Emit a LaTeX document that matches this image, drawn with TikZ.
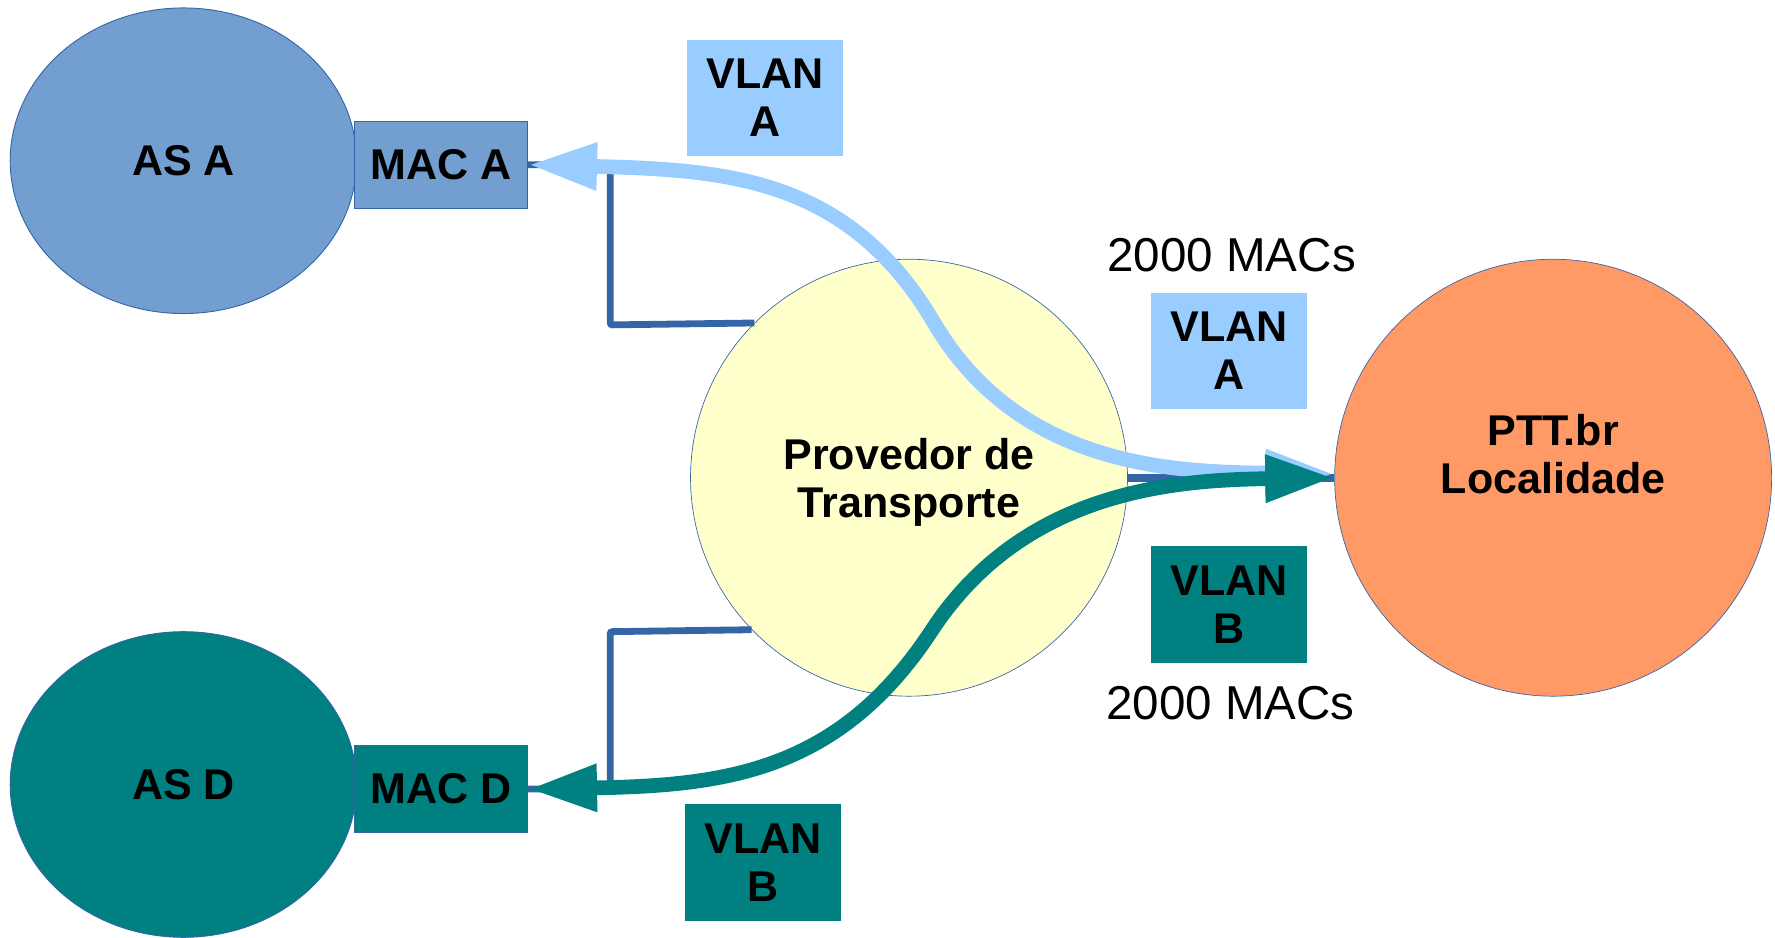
\documentclass[tikz,border=0pt]{standalone}
\usepackage{fontspec}
\setmainfont{Liberation Sans}
\usetikzlibrary{arrows.meta,shapes.geometric}
\definecolor{asblue}{HTML}{729FCF}
\definecolor{edgeblue}{HTML}{3465A4}
\definecolor{lightblue}{HTML}{99CCFF}
\definecolor{tealc}{HTML}{008080}
\definecolor{provy}{HTML}{FFFFCC}
\definecolor{pttor}{HTML}{FF9966}
\begin{document}
\begin{tikzpicture}[x=1pt,y=-1pt,
  bold/.style={font=\fontsize{38}{42.5}\selectfont\bfseries, align=center},
  asnode/.style={ellipse, draw=edgeblue, line width=0.8pt, minimum width=306pt, minimum height=270pt, inner sep=0pt, bold},
  macbox/.style={rectangle, draw=edgeblue, line width=0.8pt, minimum width=153pt, minimum height=77pt, inner sep=0pt, bold},
  bigcircle/.style={circle, draw=edgeblue, line width=0.6pt, minimum size=386pt, inner sep=0pt, bold},
  vlanbox/.style={rectangle, minimum width=138pt, minimum height=103pt, inner sep=0pt, bold},
  count/.style={font=\fontsize{42}{48}\selectfont, inner sep=0pt},
  link/.style={draw=edgeblue, line width=6pt, rounded corners=2pt},
  flow/.style={line width=13pt, {Triangle[length=61pt,width=39pt]}-{Triangle[length=61pt,width=39pt]}},
]
\path[use as bounding box] (0,0) rectangle (1568,828);

\node[asnode, fill=asblue] (asa) at (162,142) {AS A};
\node[macbox, fill=asblue] (maca) at (389.5,145.5) {MAC A};
\node[asnode, fill=tealc] (asd) at (162,693) {AS D};
\node[macbox, fill=tealc] (macd) at (389.5,697) {MAC D};
\node[bigcircle, fill=provy] (prov) at (803,422) {};
\node[bold] (provtext) at (803,426) {Provedor de\\Transporte};
\node[bigcircle, fill=pttor] (ptt) at (1372,422) {};
\node[bold] (ptttext) at (1372,401.5) {PTT.br\\Localidade};

\draw[link] (maca.east) -- (539,145.5) -- (539,287) -- (prov.135.6);
\draw[link] (macd.east) -- (539,697) -- (539,558) -- (prov.224.4);
\draw[edgeblue, line width=7pt] (prov.east) -- (ptt.west);

\node[vlanbox, fill=lightblue] (vlana1) at (676,86.5) {VLAN\\A};
\node[vlanbox, fill=lightblue] (vlana2) at (1086,310) {VLAN\\A};
\node[vlanbox, fill=tealc] (vlanb2) at (1086,534) {VLAN\\B};
\node[vlanbox, fill=tealc] (vlanb1) at (674,762) {VLAN\\B};
\node[count] (macs1) at (1088,225) {2000 MACs};
\node[count] (macs2) at (1087,621) {2000 MACs};

\draw[flow, lightblue] (ptt.179.1) .. controls (1040,417) and (901,414) .. (825,285)
  .. controls (749,156) and (640,150) .. (maca.east);
\draw[flow, tealc] (macd.east) .. controls (640,694) and (741,682) .. (823,557)
  .. controls (905,432) and (1040,424) .. (ptt.west);
\end{tikzpicture}
\end{document}
